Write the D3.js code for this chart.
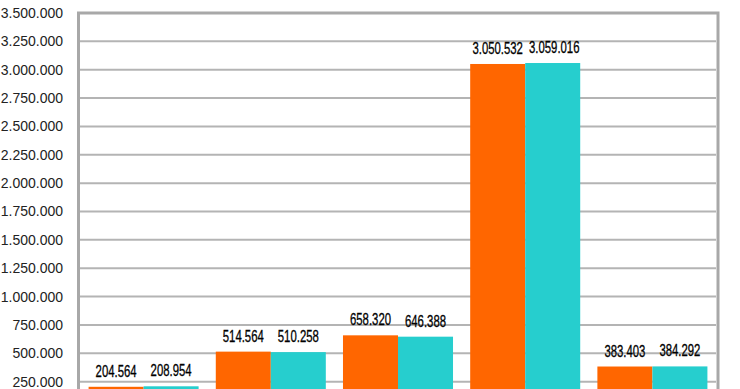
<!DOCTYPE html>
<html>
<head>
<meta charset="utf-8">
<script src="https://cdn.jsdelivr.net/npm/d3@7"></script>
<style>
html,body{margin:0;padding:0;background:#fff;}
svg{display:block;}
</style>
</head>
<body>
<svg id="chart" width="740" height="389"></svg>
<script>
const categories = ["A", "B", "C", "D", "E"];
const series1 = [204564, 514564, 658320, 3050532, 383403];
const series2 = [208954, 510258, 646388, 3059016, 384292];
const tickValues = [250000, 500000, 750000, 1000000, 1250000, 1500000, 1750000, 2000000, 2250000, 2500000, 2750000, 3000000, 3250000, 3500000];
const colors = ["#ff6600", "#26cece"];

const svg = d3.select("#chart");
const locale = d3.formatLocale({decimal: ",", thousands: ".", grouping: [3], currency: ["", ""]});
const fmt = locale.format(",.0f");

const y = d3.scaleLinear().domain([0, 3500000]).range([410, 13]);
const x = d3.scaleBand().domain(categories).range([80, 716]).paddingInner(0.135).paddingOuter(0.0675);
const xs = d3.scaleBand().domain([0, 1]).range([0, x.bandwidth()]);

// gridlines
svg.append("g").selectAll("line").data(tickValues.slice(0, -1)).join("line")
  .attr("x1", 80).attr("x2", 716)
  .attr("y1", d => y(d)).attr("y2", d => y(d))
  .attr("stroke", "#b4b4b4").attr("stroke-width", 2);

// bars
const groups = svg.append("g").selectAll("g").data(categories).join("g")
  .attr("transform", d => `translate(${x(d)},0)`);
const data = categories.map((c, i) => [series1[i], series2[i]]);
groups.selectAll("rect").data((d, i) => data[i].map((v, k) => ({v, k}))).join("rect")
  .attr("x", d => xs(d.k)).attr("width", xs.bandwidth())
  .attr("y", d => y(d.v)).attr("height", d => y(0) - y(d.v))
  .attr("fill", d => colors[d.k]);

// labels (horizontally condensed via transform)
const SCALE = 0.71;
groups.each(function(c, i) {
  const g = d3.select(this);
  const items = data[i].map((v, k) => ({v, k, cx: xs(k) + xs.bandwidth() / 2}));
  const lbl = g.selectAll("text").data(items).join("text")
    .attr("text-anchor", "middle")
    .attr("font-family", "Liberation Sans, Arial, sans-serif")
    .attr("font-size", 16)
    .attr("fill", "#000")
    .attr("stroke", "#000").attr("stroke-width", 0.3)
    .text(d => fmt(d.v));
  const widths = [];
  lbl.each(function() { widths.push(this.getComputedTextLength() * SCALE); });
  const gap = (items[1].cx - widths[1] / 2) - (items[0].cx + widths[0] / 2);
  const minGap = 6;
  if (gap < minGap) items[1].cx += (minGap - gap);
  lbl.attr("transform", d => `translate(${d.cx},${y(d.v) - 10}) scale(${SCALE},1)`);
});

// border
svg.append("rect").attr("x", 78.5).attr("y", 13).attr("width", 639.5).attr("height", 420)
  .attr("fill", "none").attr("stroke", "#a8a8a8").attr("stroke-width", 3);

// y axis
const axis = svg.append("g").attr("transform", "translate(78,0)")
  .call(d3.axisLeft(y).tickValues(tickValues).tickSize(0).tickPadding(15).tickFormat(fmt));
axis.select(".domain").remove();
axis.selectAll("text").attr("font-family", "Liberation Sans, Arial, sans-serif")
  .attr("font-size", 14).attr("fill", "#222");
</script>
</body>
</html>
